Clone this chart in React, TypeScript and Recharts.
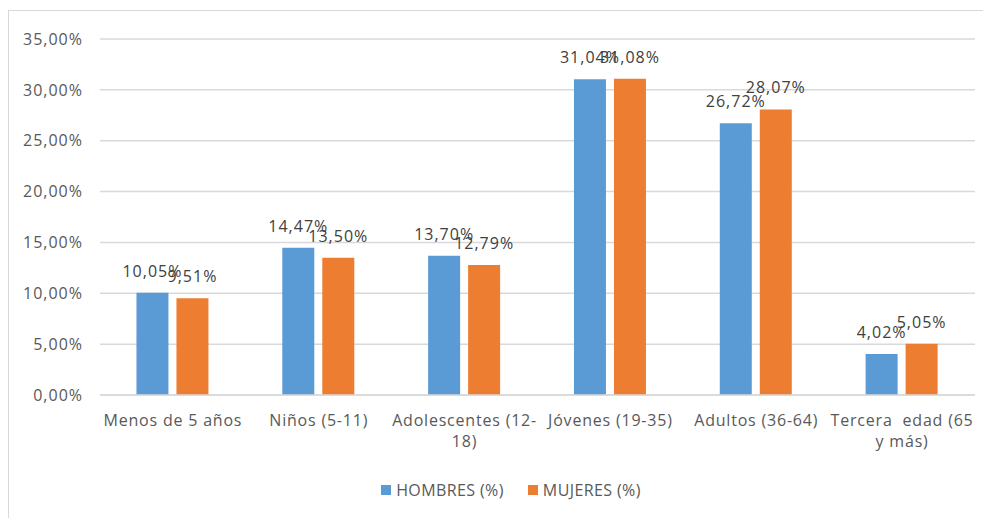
import { BarChart, Bar, XAxis, YAxis, CartesianGrid, Legend, LabelList } from 'recharts'

const categories = [
  'Menos de 5 años',
  'Niños (5-11)',
  'Adolescentes (12-\n18)',
  'Jóvenes (19-35)',
  'Adultos (36-64)',
  'Tercera  edad (65\ny más)',
]
const hombres = [10.05, 14.47, 13.7, 31.04, 26.72, 4.02]
const mujeres = [9.51, 13.5, 12.79, 31.08, 28.07, 5.05]
const yTicks = [0, 5, 10, 15, 20, 25, 30, 35]

const BLUE = '#5b9bd5'
const ORANGE = '#ed7d31'
const FONT = '"Open Sans", sans-serif'

const data = categories.map((name, i) => ({ name, hombres: hombres[i], mujeres: mujeres[i] }))

const pct = (v: number) => v.toFixed(2).replace('.', ',') + '%'

function CategoryTick({ x, y, payload }: any) {
  const lines = String(payload.value).split('\n')
  return (
    <text x={x} y={y + 23} textAnchor="middle" fill="#595959" fontSize={16} fontFamily={FONT} letterSpacing={0.8}>
      {lines.map((l, i) => (
        <tspan key={i} x={x} dy={i === 0 ? 0 : 21} style={{ whiteSpace: 'pre' }}>
          {l}
        </tspan>
      ))}
    </text>
  )
}

function LegendContent() {
  const items = [
    { label: 'HOMBRES (%)', color: BLUE },
    { label: 'MUJERES (%)', color: ORANGE },
  ]
  return (
    <div style={{ display: 'flex', justifyContent: 'center', gap: 24, marginLeft: 22, fontFamily: FONT, fontSize: 16, letterSpacing: 0.4, color: '#595959' }}>
      {items.map((it) => (
        <div key={it.label} style={{ display: 'flex', alignItems: 'center', gap: 5 }}>
          <span style={{ width: 10, height: 10, background: it.color, display: 'inline-block' }} />
          <span>{it.label}</span>
        </div>
      ))}
    </div>
  )
}

const labelProps = { position: 'top' as const, offset: 16, fill: '#404040', fontSize: 16, fontFamily: FONT, letterSpacing: 1 }

export default function App() {
  return (
    <div style={{ marginTop: 2, width: 983, height: 508, borderLeft: '1px solid #d9d9d9', borderTop: '1px solid #d9d9d9', boxSizing: 'border-box', background: '#fff' }}>
      <BarChart
        width={982}
        height={507}
        data={data}
        margin={{ top: 28, right: 16, left: 0, bottom: 63 }}
        barCategoryGap="25%"
        barGap={8}
      >
        <CartesianGrid vertical={false} stroke="#d9d9d9" strokeWidth={1.5} />
        <XAxis
          dataKey="name"
          height={60}
          interval={0}
          tickLine={false}
          axisLine={{ stroke: '#d9d9d9', strokeWidth: 1.5 }}
          tick={<CategoryTick />}
        />
        <YAxis
          width={91}
          domain={[0, 35]}
          ticks={yTicks}
          tickFormatter={pct}
          axisLine={false}
          tickLine={false}
          tickMargin={11}
          tick={{ fontSize: 16, fill: '#595959', fontFamily: FONT, letterSpacing: 1 }}
        />
        <Legend
          layout="horizontal"
          verticalAlign="middle"
          align="center"
          wrapperStyle={{ top: 468, left: 0, width: 982 }}
          content={<LegendContent />}
        />
        <Bar dataKey="hombres" fill={BLUE} isAnimationActive={false}>
          <LabelList dataKey="hombres" formatter={(v: any) => pct(Number(v))} {...labelProps} />
        </Bar>
        <Bar dataKey="mujeres" fill={ORANGE} isAnimationActive={false}>
          <LabelList dataKey="mujeres" formatter={(v: any) => pct(Number(v))} {...labelProps} />
        </Bar>
      </BarChart>
    </div>
  )
}
